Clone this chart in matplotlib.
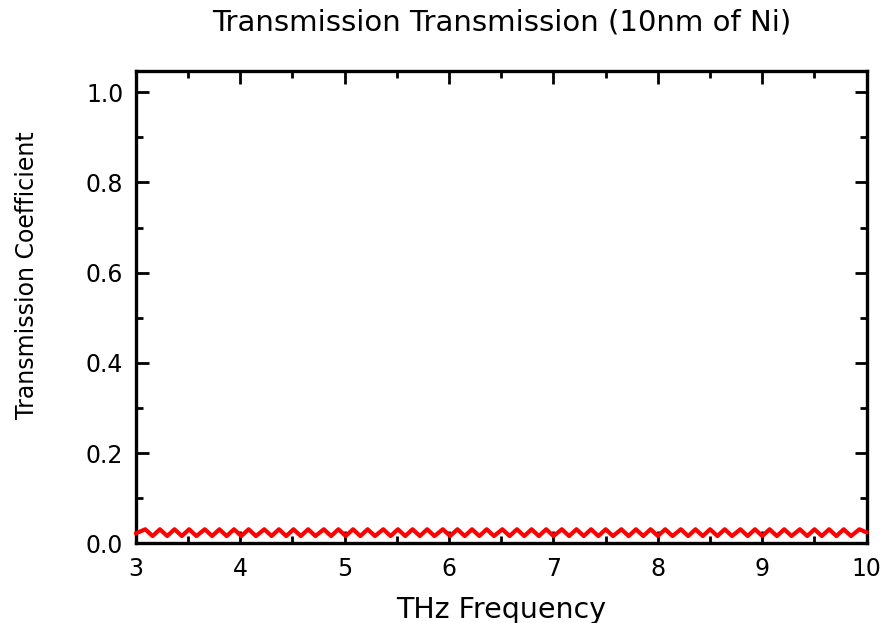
import matplotlib
matplotlib.use("Agg")
import matplotlib.pyplot as plt
from matplotlib.ticker import MultipleLocator

plt.rcParams['font.family'] = ['DejaVu Sans']

# Transmission ripple: local maxima and minima of the measured curve
peak_freq = [3.09, 3.23, 3.37, 3.51, 3.66, 3.80, 3.94, 4.08, 4.23, 4.37,
             4.51, 4.65, 4.80, 4.94, 5.08, 5.22, 5.37, 5.51, 5.65, 5.79,
             5.94, 6.08, 6.22, 6.36, 6.51, 6.65, 6.79, 6.93, 7.08, 7.22,
             7.36, 7.50, 7.65, 7.79, 7.93, 8.07, 8.22, 8.36, 8.50, 8.64,
             8.79, 8.93, 9.07, 9.21, 9.36, 9.50, 9.64, 9.78, 9.93]
peak_trans = [0.031, 0.031, 0.031, 0.031, 0.031, 0.031, 0.031, 0.031, 0.031, 0.031,
              0.031, 0.031, 0.031, 0.031, 0.031, 0.031, 0.031, 0.031, 0.031, 0.031,
              0.031, 0.031, 0.031, 0.031, 0.031, 0.031, 0.031, 0.031, 0.031, 0.031,
              0.031, 0.031, 0.031, 0.031, 0.031, 0.031, 0.031, 0.031, 0.031, 0.031,
              0.031, 0.031, 0.031, 0.031, 0.031, 0.031, 0.031, 0.031, 0.031]
trough_freq = [3.00, 3.16, 3.30, 3.44, 3.58, 3.73, 3.87, 4.01, 4.15, 4.30,
               4.44, 4.58, 4.72, 4.87, 5.01, 5.15, 5.29, 5.44, 5.58, 5.72,
               5.86, 6.01, 6.15, 6.29, 6.43, 6.58, 6.72, 6.86, 7.00, 7.15,
               7.29, 7.43, 7.57, 7.72, 7.86, 8.00, 8.14, 8.29, 8.43, 8.57,
               8.71, 8.86, 9.00, 9.14, 9.28, 9.43, 9.57, 9.71, 9.85, 10.00]
trough_trans = [0.022, 0.016, 0.016, 0.016, 0.016, 0.016, 0.016, 0.016, 0.016, 0.016,
                0.016, 0.016, 0.016, 0.016, 0.016, 0.016, 0.016, 0.016, 0.016, 0.016,
                0.016, 0.016, 0.016, 0.016, 0.016, 0.016, 0.016, 0.016, 0.016, 0.016,
                0.016, 0.016, 0.016, 0.016, 0.016, 0.016, 0.016, 0.016, 0.016, 0.016,
                0.016, 0.016, 0.016, 0.016, 0.016, 0.016, 0.016, 0.016, 0.016, 0.024]

x_ticks = [3, 4, 5, 6, 7, 8, 9, 10]
y_ticks = [0.0, 0.2, 0.4, 0.6, 0.8, 1.0]

# merge extrema into one frequency-ordered curve
pts = sorted(zip(peak_freq + trough_freq, peak_trans + trough_trans))
freq = [p[0] for p in pts]
trans = [p[1] for p in pts]

fig = plt.figure(figsize=(8.88, 6.23), dpi=100)
ax = fig.add_axes([0.153, 0.128, 0.823, 0.758])

ax.plot(freq, trans, color='#ff0000', lw=3.0, solid_joinstyle='round',
        solid_capstyle='round', clip_on=False, zorder=3)

ax.set_xlim(3, 10)
ax.set_ylim(0, 1.047)
ax.set_xticks(x_ticks)
ax.set_xticklabels([str(v) for v in x_ticks])
ax.set_yticks(y_ticks)
ax.set_yticklabels([f"{v:.1f}" for v in y_ticks])
ax.xaxis.set_minor_locator(MultipleLocator(0.5))
ax.yaxis.set_minor_locator(MultipleLocator(0.1))

for s in ax.spines.values():
    s.set_linewidth(2.4)
    s.set_color('black')

ax.tick_params(which='both', direction='in', top=True, right=True,
               width=2.0, color='black')
ax.tick_params(which='major', length=9, labelsize=17, pad=9)
ax.tick_params(which='minor', length=5)
ax.tick_params(axis='x', which='major', pad=10)

ax.set_xlabel('THz Frequency', fontsize=20.5, labelpad=11)
ax.set_ylabel('Transmission Coefficient', fontsize=17)
ax.yaxis.set_label_coords(-0.133, 0.568)
ax.set_title('Transmission Transmission (10nm of Ni)', fontsize=21, pad=29)

fig.savefig('out.png', dpi=100)
